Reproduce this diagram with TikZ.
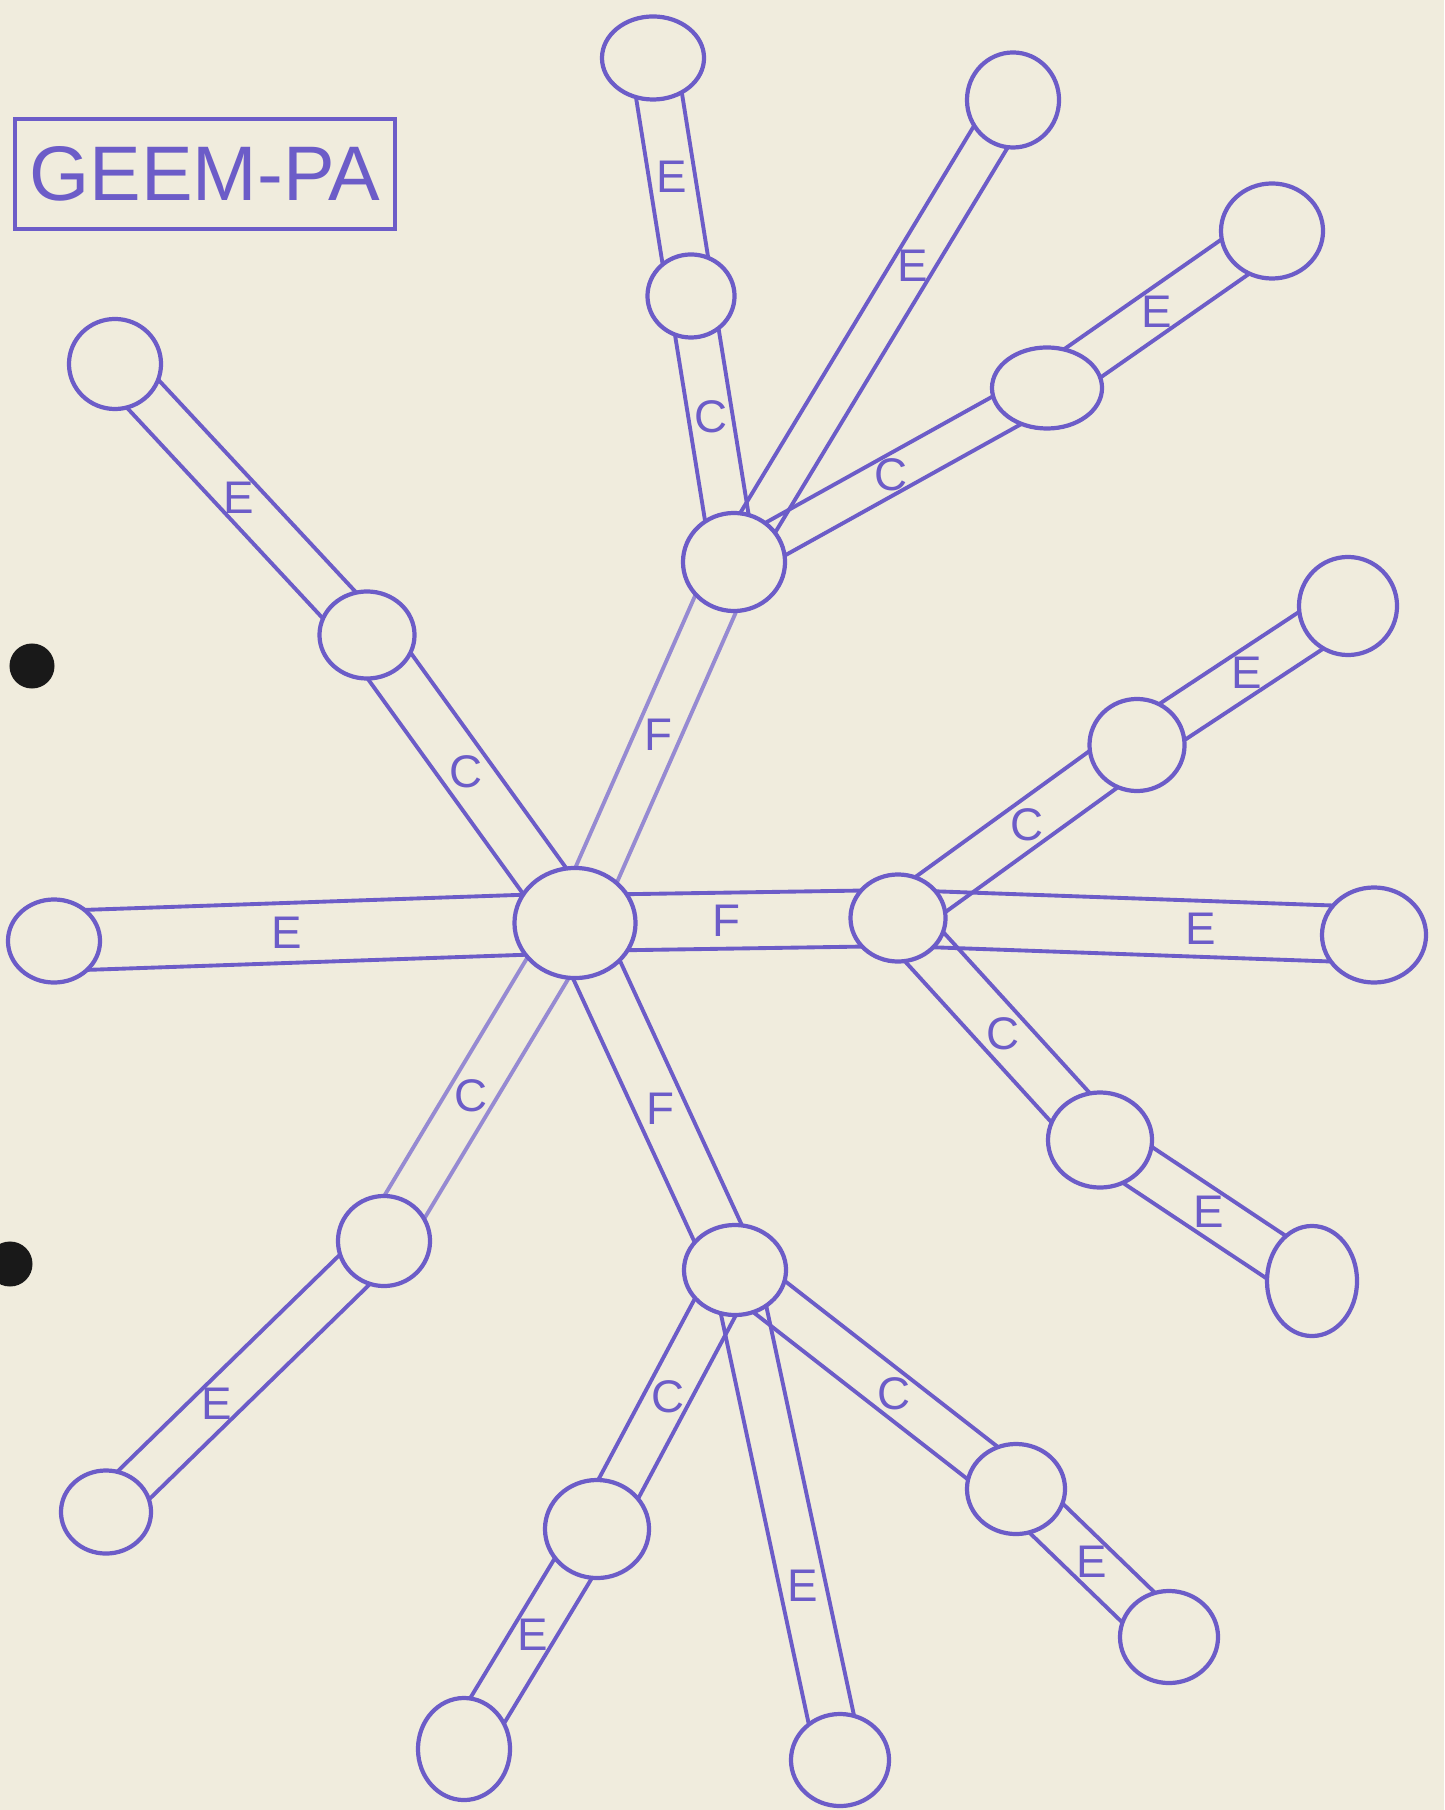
\documentclass[tikz,border=0pt]{standalone}
\usepackage{fontspec}
\setmainfont{Liberation Sans}
\usetikzlibrary{shapes.geometric,calc}
\definecolor{paper}{RGB}{240,236,221}
\definecolor{ink}{RGB}{108,92,200}
\definecolor{inklight}{RGB}{150,138,210}
\pgfdeclarelayer{paperlayer}
\pgfdeclarelayer{background}
\pgfsetlayers{paperlayer,background,main}
\tikzset{
  blob/.style={ellipse,draw=ink,line width=1.2pt,fill=paper,inner sep=0pt},
  bandline/.style={draw=ink,line width=1.1pt},
  lbl/.style={text=ink,font=\fontsize{13}{13}\selectfont,inner sep=0pt},
  hole/.style={circle,fill=black!90,inner sep=0pt,minimum size=0.45cm}
}
\newcommand\stick[6][]{%
  \begin{pgfonlayer}{background}
  \draw[bandline,#1] ($(#2)!#4!90:(#3)$) -- ($(#3)!#4!-90:(#2)$);
  \draw[bandline,#1] ($(#2)!#4!-90:(#3)$) -- ($(#3)!#4!90:(#2)$);
  \end{pgfonlayer}
  \path (#2) -- node[lbl,pos=#6]{#5} (#3);
}
\begin{document}
\begin{tikzpicture}[x=0.01cm,y=-0.01cm]
\begin{pgfonlayer}{paperlayer}
\fill[paper] (0,0) rectangle (1444,1810);
\end{pgfonlayer}
\useasboundingbox (0,0) rectangle (1444,1810);

% punch holes
\node[hole] (h1) at (32,666) {};
\node[hole] (h2) at (10,1264) {};

% title
\node[draw=ink,line width=1.1pt,minimum width=3.79cm,minimum height=1.10cm,inner sep=0pt,
  text=ink,font=\fontsize{22}{22}\selectfont] (title) at (205,174) {GEEM-PA};

% hubs
\node[blob,minimum width=1.21cm,minimum height=1.10cm] (A) at (575,923) {};
\node[blob,minimum width=1.02cm,minimum height=0.98cm] (B) at (734,562) {};
\node[blob,minimum width=0.95cm,minimum height=0.87cm] (R) at (898,918) {};
\node[blob,minimum width=1.02cm,minimum height=0.90cm] (D) at (735,1270) {};

% B branch
\node[blob,minimum width=0.87cm,minimum height=0.83cm] (Bc1) at (691,296) {};
\node[blob,minimum width=1.02cm,minimum height=0.83cm] (Be1) at (653,58) {};
\node[blob,minimum width=0.92cm,minimum height=0.95cm] (Be2) at (1013,100) {};
\node[blob,minimum width=1.10cm,minimum height=0.81cm] (Bc2) at (1047,388) {};
\node[blob,minimum width=1.02cm,minimum height=0.95cm] (Be3) at (1272,231) {};

% A branch
\node[blob,minimum width=0.95cm,minimum height=0.87cm] (Ac1) at (367,635) {};
\node[blob,minimum width=0.92cm,minimum height=0.90cm] (Ae1) at (115,364) {};
\node[blob,minimum width=0.92cm,minimum height=0.83cm] (Ae2) at (54,941) {};
\node[blob,minimum width=0.92cm,minimum height=0.90cm] (Ac2) at (384,1241) {};
\node[blob,minimum width=0.90cm,minimum height=0.83cm] (Ae3) at (106,1512) {};

% R branch
\node[blob,minimum width=0.95cm,minimum height=0.92cm] (Rc1) at (1137,745) {};
\node[blob,minimum width=0.98cm,minimum height=0.98cm] (Re1) at (1348,606) {};
\node[blob,minimum width=1.04cm,minimum height=0.95cm] (Re2) at (1374,935) {};
\node[blob,minimum width=1.04cm,minimum height=0.95cm] (Rc2) at (1100,1140) {};
\node[blob,minimum width=0.90cm,minimum height=1.10cm] (Re3) at (1312,1281) {};

% D branch
\node[blob,minimum width=1.04cm,minimum height=0.98cm] (Dc1) at (597,1529) {};
\node[blob,minimum width=0.92cm,minimum height=1.02cm] (De1) at (464,1749) {};
\node[blob,minimum width=0.98cm,minimum height=0.92cm] (De2) at (840,1760) {};
\node[blob,minimum width=0.98cm,minimum height=0.90cm] (Dc2) at (1016,1489) {};
\node[blob,minimum width=0.98cm,minimum height=0.92cm] (De3) at (1169,1637) {};

% bands from A
\stick[draw=inklight]{A}{B}{0.22cm}{F}{0.52}
\stick{A}{R}{0.28cm}{F}{0.42}
\stick{A}{D}{0.25cm}{F}{0.53}
\stick{A}{Ac1}{0.25cm}{C}{0.51}
\stick{Ac1}{Ae1}{0.21cm}{E}{0.51}
\stick{A}{Ae2}{0.30cm}{E}{0.55}
\stick[draw=inklight]{A}{Ac2}{0.23cm}{C}{0.54}
\stick{Ac2}{Ae3}{0.21cm}{E}{0.63}

% bands from B
\stick{B}{Bc1}{0.22cm}{C}{0.55}
\stick{Bc1}{Be1}{0.23cm}{E}{0.5}
\stick{B}{Be2}{0.20cm}{E}{0.67}
\stick{B}{Bc2}{0.19cm}{C}{0.5}
\stick{Bc2}{Be3}{0.22cm}{E}{0.48}

% bands from R
\stick{R}{Rc1}{0.23cm}{C}{0.56}
\stick{Rc1}{Re1}{0.22cm}{E}{0.54}
\stick{R}{Re2}{0.28cm}{E}{0.68}
\stick{R}{Rc2}{0.24cm}{C}{0.54}
\stick{Rc2}{Re3}{0.23cm}{E}{0.51}

% bands from D
\stick{D}{Dc1}{0.22cm}{C}{0.49}
\stick{Dc1}{De1}{0.21cm}{E}{0.47}
\stick{D}{De2}{0.23cm}{E}{0.68}
\stick{D}{Dc2}{0.22cm}{C}{0.59}
\stick{Dc2}{De3}{0.22cm}{E}{0.49}
\end{tikzpicture}
\end{document}
